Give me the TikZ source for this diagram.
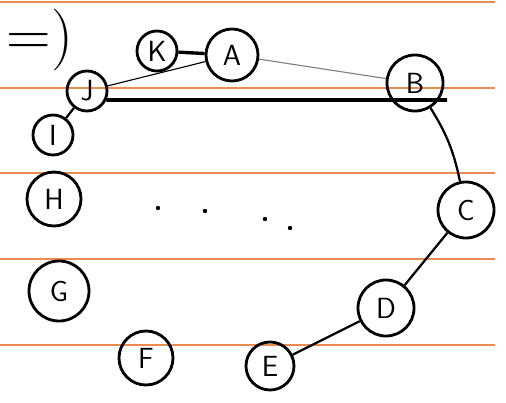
\documentclass[tikz,border=0pt]{standalone}
\definecolor{ruleorange}{RGB}{232,140,80}
\begin{document}
\begin{tikzpicture}[x=0.025cm,y=-0.025cm,
  vtx/.style={circle,draw,line width=2pt,inner sep=0pt,minimum size=1cm,font=\sffamily\huge},
  big/.style={minimum size=1.4cm},
  edge/.style={line width=1.6pt}]
\useasboundingbox (0,0) rectangle (506,402);
% ruled paper
\foreach \y in {2,88,173,259,345}
  \draw[ruleorange,line width=1.2pt] (0,\y) -- (495,\y);
\node[font=\fontsize{44}{44}\selectfont] (imp) at (40,40) {=)};
% vertices
\node[vtx] (K) at (157,51) {K};
\node[vtx,minimum size=1.3cm] (A) at (232,55) {A};
\node[vtx] (J) at (87,91) {J};
\node[vtx] (I) at (53,135) {I};
\node[vtx,big] (B) at (415,83) {B};
\node[vtx,big] (C) at (466,210) {C};
\node[vtx,big] (D) at (386,308) {D};
\node[vtx,minimum size=1.2cm] (E) at (270,366) {E};
\node[vtx,minimum size=1.35cm] (F) at (146,358) {F};
\node[vtx,big,minimum size=1.5cm] (G) at (59,291) {G};
\node[vtx,minimum size=1.35cm] (H) at (54,199) {H};
\coordinate (Bx) at (447,100);
% edges
\draw[line width=2.4pt] (K) -- (A);
\draw[line width=0.8pt] (J) -- (A);
\draw[line width=0.8pt,gray] (A) -- (B);
\draw[line width=2.6pt] (J.-25) -- (Bx);
\draw[edge] (J) -- (I);
\draw[edge] (B) to[bend left=10] (C);
\draw[edge] (C) -- (D);
\draw[edge] (D) -- (E);
% dots
\foreach \p in {(158,208),(205,211),(265,219),(290,228)}
  \fill \p circle (2.2);
\end{tikzpicture}
\end{document}
